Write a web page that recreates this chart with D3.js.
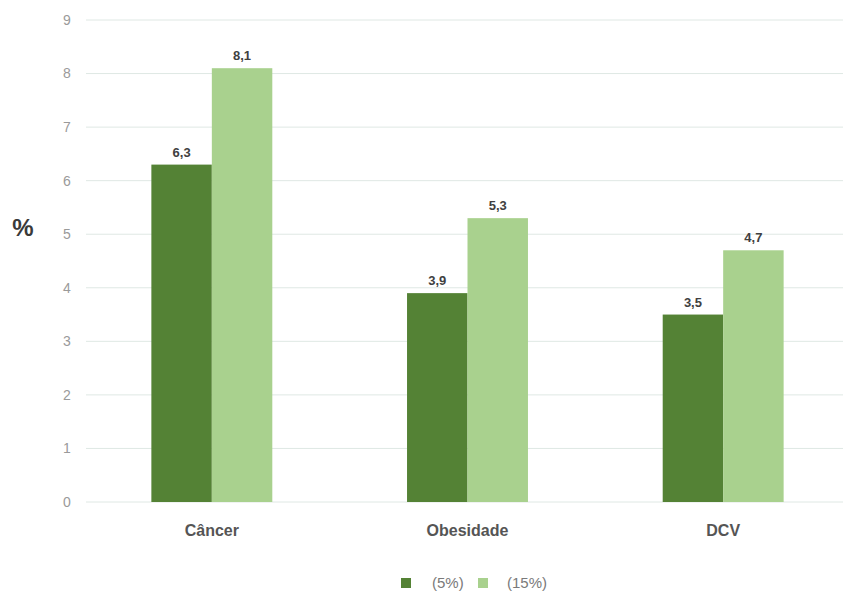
<!DOCTYPE html>
<html>
<head>
<meta charset="utf-8">
<script src="https://cdn.jsdelivr.net/npm/d3@7"></script>
<style>
  body { margin: 0; background: #fff; }
  svg { display: block; font-family: "Liberation Sans", Arial, sans-serif; }
</style>
</head>
<body>
<div id="chart"></div>
<script>
// data
const categories = ["Câncer", "Obesidade", "DCV"];
const seriesNames = ["(5%)", "(15%)"];
const values5 = [6.3, 3.9, 3.5];
const values15 = [8.1, 5.3, 4.7];
const yTicks = [0, 1, 2, 3, 4, 5, 6, 7, 8, 9];

const colors = ["#548235", "#a9d18e"];

const width = 843, height = 591;

const svg = d3.select("#chart")
    .append("svg")
    .attr("width", width)
    .attr("height", height);

// scales
const y = d3.scaleLinear()
    .domain([0, 9])
    .range([502, 20]);

const x0 = d3.scaleBand()
    .domain(categories)
    .range([84, 851])
    .paddingInner(0.527)
    .paddingOuter(0.2635);

const x1 = d3.scaleBand()
    .domain(seriesNames)
    .range([0, x0.bandwidth()]);

// gridlines
svg.append("g")
    .selectAll("line")
    .data(yTicks)
    .join("line")
    .attr("x1", 86)
    .attr("x2", width)
    .attr("y1", d => y(d))
    .attr("y2", d => y(d))
    .attr("stroke", "#dfe8e4")
    .attr("stroke-width", 1);

// y tick labels
svg.append("g")
    .selectAll("text")
    .data(yTicks)
    .join("text")
    .attr("x", 67)
    .attr("y", d => y(d))
    .attr("dy", "0.35em")
    .attr("text-anchor", "middle")
    .style("font-size", "14px")
    .style("fill", "#9a9a9a")
    .text(d => d);

// y axis title
svg.append("text")
    .attr("x", 23)
    .attr("y", 228)
    .attr("dy", "0.35em")
    .attr("text-anchor", "middle")
    .style("font-size", "24px")
    .style("font-weight", "bold")
    .style("fill", "#3a3a3a")
    .text("%");

// bars
const rows = categories.map((c, i) => ({
    category: c,
    items: [
        { name: seriesNames[0], value: values5[i] },
        { name: seriesNames[1], value: values15[i] }
    ]
}));

const groups = svg.append("g")
    .selectAll("g")
    .data(rows)
    .join("g")
    .attr("transform", d => `translate(${x0(d.category)},0)`);

groups.selectAll("rect")
    .data(d => d.items)
    .join("rect")
    .attr("x", d => x1(d.name))
    .attr("y", d => y(d.value))
    .attr("width", x1.bandwidth())
    .attr("height", d => y(0) - y(d.value))
    .attr("fill", (d, i) => colors[i]);

// value labels
groups.selectAll("text")
    .data(d => d.items)
    .join("text")
    .attr("x", d => x1(d.name) + x1.bandwidth() / 2)
    .attr("y", d => y(d.value) - 8)
    .attr("text-anchor", "middle")
    .style("font-size", "13px")
    .style("font-weight", "bold")
    .style("fill", "#404040")
    .text(d => d.value.toFixed(1).replace(".", ","));

// category labels
svg.append("g")
    .selectAll("text")
    .data(categories)
    .join("text")
    .attr("x", d => x0(d) + x0.bandwidth() / 2)
    .attr("y", 530)
    .attr("dy", "0.35em")
    .attr("text-anchor", "middle")
    .style("font-size", "16px")
    .style("font-weight", "bold")
    .style("fill", "#555")
    .text(d => d);

// legend
const legendX = [401, 478];
const legendTextX = [432, 507];
const legend = svg.append("g");
seriesNames.forEach((n, i) => {
    legend.append("rect")
        .attr("x", legendX[i])
        .attr("y", 578)
        .attr("width", 10)
        .attr("height", 10)
        .attr("fill", colors[i]);
    legend.append("text")
        .attr("x", legendTextX[i])
        .attr("y", 583)
        .attr("dy", "0.35em")
        .style("font-size", "15px")
        .style("fill", "#7a7a7a")
        .text(n);
});
</script>
</body>
</html>
